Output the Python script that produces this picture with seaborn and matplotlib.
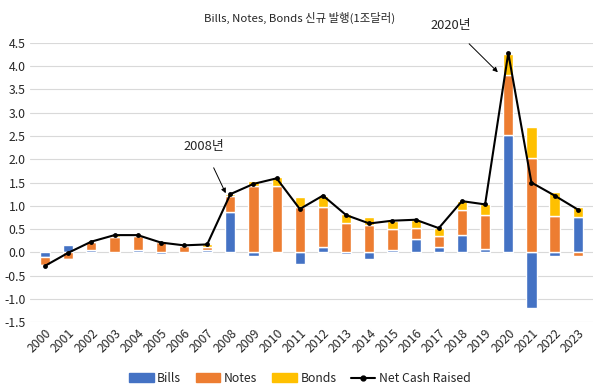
import numpy as np
import pandas as pd
import seaborn as sns
import matplotlib.pyplot as plt
from matplotlib.lines import Line2D
from matplotlib.patches import Patch

# Datos (billones de dólares)
years = [str(y) for y in range(2000, 2024)]
bills = [-0.09, 0.16, 0.06, 0.00, 0.06, -0.03, -0.01, 0.05, 0.86, -0.08, -0.02, -0.26,
         0.11, -0.03, -0.14, 0.05, 0.29, 0.12, 0.37, 0.07, 2.53, -1.20, -0.08, 0.75]
notes = [-0.18, -0.14, 0.17, 0.34, 0.30, 0.23, 0.14, 0.06, 0.34, 1.42, 1.42, 0.98,
         0.87, 0.64, 0.59, 0.45, 0.24, 0.23, 0.53, 0.73, 1.28, 2.03, 0.78, -0.08]
bonds = [-0.01, -0.03, 0.01, 0.03, 0.01, 0.01, 0.01, 0.06, 0.05, 0.12, 0.19, 0.20,
         0.24, 0.19, 0.17, 0.17, 0.17, 0.18, 0.20, 0.23, 0.46, 0.67, 0.51, 0.23]
net_cash = [-0.29, -0.01, 0.23, 0.37, 0.37, 0.21, 0.15, 0.17, 1.25, 1.47, 1.59, 0.93,
            1.22, 0.80, 0.62, 0.68, 0.70, 0.52, 1.10, 1.03, 4.28, 1.50, 1.22, 0.92]
yticks = [-1.5, -1.0, -0.5, 0.0, 0.5, 1.0, 1.5, 2.0, 2.5, 3.0, 3.5, 4.0, 4.5]

sns.set_style('white')
plt.rcParams['font.family'] = ['Noto Sans CJK KR', 'DejaVu Sans']

colores = {'Bills': '#4472C4', 'Notes': '#ED7D31', 'Bonds': '#FFC000'}
series = {'Bills': bills, 'Notes': notes, 'Bonds': bonds}

fig = plt.figure(figsize=(6, 3.9), dpi=100)
ax = fig.add_axes([0.05, 0.174, 0.938, 0.716])

x = np.arange(len(years))
pos_base = np.zeros(len(years))
neg_base = np.zeros(len(years))
for nombre, vals in series.items():
    v = np.array(vals)
    base = np.where(v >= 0, pos_base, neg_base)
    ax.bar(x, v, bottom=base, width=0.44, color=colores[nombre], zorder=2)
    pos_base += np.where(v >= 0, v, 0)
    neg_base += np.where(v < 0, v, 0)

df_net = pd.DataFrame({'x': x, 'net': net_cash})
sns.lineplot(data=df_net, x='x', y='net', ax=ax, color='black', lw=1.5,
             marker='o', markersize=3.5, markeredgewidth=0, zorder=3)

ax.set_ylim(-1.5, 4.5)
ax.set_xlim(-0.65, len(years) - 0.35)
ax.set_yticks(yticks)
ax.set_yticklabels([f'{t:.1f}' for t in yticks], fontsize=8.8)
ax.set_xticks(x)
ax.set_xticklabels(years, rotation=45, ha='right', rotation_mode='anchor', fontsize=8.8)
ax.tick_params(axis='both', length=0, pad=3)
ax.yaxis.grid(True, color='#D9D9D9', lw=0.8, zorder=0)
ax.set_xlabel('')
ax.set_ylabel('')
for s in ax.spines.values():
    s.set_visible(False)

# Anotaciones
ax.annotate('2008년', xy=(7.8, 1.27), xytext=(6.85, 2.27), ha='center', va='center',
            fontsize=9.3, arrowprops=dict(arrowstyle='-|>', color='black', lw=0.7,
                                          mutation_scale=7, shrinkA=9, shrinkB=0))
ax.annotate('2020년', xy=(19.55, 3.87), xytext=(17.5, 4.88), ha='center', va='center',
            fontsize=9.3, annotation_clip=False,
            arrowprops=dict(arrowstyle='-|>', color='black', lw=0.7,
                            mutation_scale=7, shrinkA=9, shrinkB=0))

fig.text(0.5, 0.955, 'Bills, Notes, Bonds 신규 발행(1조달러)', ha='center', va='center',
         fontsize=8.2)

handles = [Patch(color=colores['Bills']), Patch(color=colores['Notes']),
           Patch(color=colores['Bonds']),
           Line2D([], [], color='black', lw=1.5, marker='o', markersize=3.5)]
fig.legend(handles, ['Bills', 'Notes', 'Bonds', 'Net Cash Raised'], loc='center',
           bbox_to_anchor=(0.5, 0.03), ncol=4, frameon=False, fontsize=8.8,
           handlelength=2.0, handleheight=0.7, columnspacing=1.2, handletextpad=0.3)

plt.savefig('out.png', dpi=100)
